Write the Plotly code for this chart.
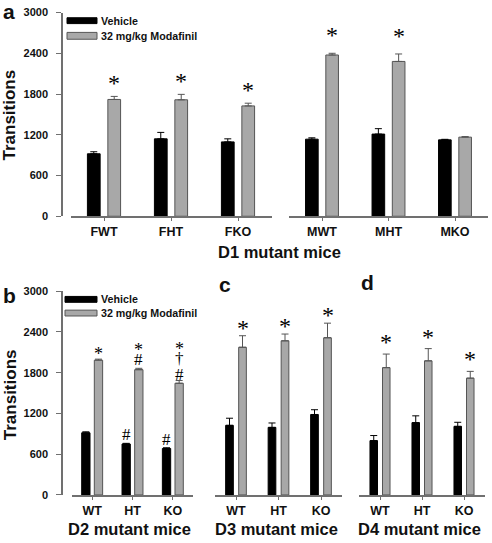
import plotly.graph_objects as go

W, H = 492, 543

def px(x):
    return x / W

def py(y):
    return 1 - y / H

# ---------------- data ----------------
d1_female = ["FWT", "FHT", "FKO"]
d1_male = ["MWT", "MHT", "MKO"]
genotypes = ["WT", "HT", "KO"]
y_ticks = [0, 600, 1200, 1800, 2400, 3000]

d1f_veh = [920, 1140, 1095]
d1f_veh_err = [30, 95, 45]
d1f_mod = [1720, 1715, 1625]
d1f_mod_err = [45, 80, 40]

d1m_veh = [1135, 1210, 1125]
d1m_veh_err = [20, 80, 8]
d1m_mod = [2375, 2280, 1165]
d1m_mod_err = [25, 110, 8]

d2_veh = [915, 750, 685]
d2_veh_err = [15, 10, 10]
d2_mod = [1985, 1845, 1645]
d2_mod_err = [15, 20, 40]

d3_veh = [1025, 995, 1185]
d3_veh_err = [105, 65, 70]
d3_mod = [2175, 2270, 2315]
d3_mod_err = [170, 100, 215]

d4_veh = [800, 1065, 1010]
d4_veh_err = [75, 100, 60]
d4_mod = [1875, 1975, 1720]
d4_mod_err = [200, 180, 100]

# significance marks: (series, category index, symbols bottom->top)
d1f_marks = [("mod", 0, ["*"]), ("mod", 1, ["*"]), ("mod", 2, ["*"])]
d1m_marks = [("mod", 0, ["*"]), ("mod", 1, ["*"])]
d2_marks = [("mod", 0, ["*"]), ("mod", 1, ["#", "*"]), ("mod", 2, ["#", "†", "*"]),
            ("veh", 1, ["#"]), ("veh", 2, ["#"])]
d3_marks = [("mod", 0, ["*"]), ("mod", 1, ["*"]), ("mod", 2, ["*"])]
d4_marks = [("mod", 0, ["*"]), ("mod", 1, ["*"]), ("mod", 2, ["*"])]

# ---------------- styling ----------------
BLACK = "#000000"
GRAY = "#a8a8a8"
GRAY_EDGE = "#555555"
AXIS = "#707070"
SANS = "Liberation Sans"
SERIF = "Liberation Serif"
TXT = "#111111"

fig = go.Figure()

panels = [
    dict(xa="x", ya="y", dom=(70.5, 271.5), cats=d1_female,
         veh=d1f_veh, veh_err=d1f_veh_err, mod=d1f_mod, mod_err=d1f_mod_err,
         w=0.19, gap=0.115, marks=d1f_marks, star=24, lift=7),
    dict(xa="x2", ya="y", dom=(288.75, 488.25), cats=d1_male,
         veh=d1m_veh, veh_err=d1m_veh_err, mod=d1m_mod, mod_err=d1m_mod_err,
         w=0.19, gap=0.115, marks=d1m_marks, star=24, lift=12),
    dict(xa="x3", ya="y3", dom=(72, 193), cats=genotypes,
         veh=d2_veh, veh_err=d2_veh_err, mod=d2_mod, mod_err=d2_mod_err,
         w=0.206, gap=0.107, marks=d2_marks, star=18, lift=0),
    dict(xa="x4", ya="y3", dom=(214.75, 342.25), cats=genotypes,
         veh=d3_veh, veh_err=d3_veh_err, mod=d3_mod, mod_err=d3_mod_err,
         w=0.181, gap=0.125, marks=d3_marks, star=24, lift=2),
    dict(xa="x5", ya="y3", dom=(359, 485), cats=genotypes,
         veh=d4_veh, veh_err=d4_veh_err, mod=d4_mod, mod_err=d4_mod_err,
         w=0.179, gap=0.119, marks=d4_marks, star=24, lift=6),
]

annotations = []

for p in panels:
    w, g = p["w"], p["gap"]
    off_veh = -w - g / 2
    off_mod = g / 2
    fig.add_trace(go.Bar(
        x=p["cats"], y=p["veh"], xaxis=p["xa"], yaxis=p["ya"],
        width=w, offset=off_veh, showlegend=False,
        marker=dict(color=BLACK, line=dict(color=BLACK, width=1)),
        error_y=dict(type="data", symmetric=False, array=p["veh_err"],
                     arrayminus=[0] * len(p["veh_err"]), color=BLACK,
                     thickness=1, width=3.5),
    ))
    fig.add_trace(go.Bar(
        x=p["cats"], y=p["mod"], xaxis=p["xa"], yaxis=p["ya"],
        width=w, offset=off_mod, showlegend=False,
        marker=dict(color=GRAY, line=dict(color=GRAY_EDGE, width=1)),
        error_y=dict(type="data", symmetric=False, array=p["mod_err"],
                     arrayminus=[0] * len(p["mod_err"]), color=GRAY_EDGE,
                     thickness=1, width=3.5),
    ))
    cat_px = (p["dom"][1] - p["dom"][0]) / len(p["cats"])
    for series, i, syms in p["marks"]:
        if series == "mod":
            top = p["mod"][i] + p["mod_err"][i]
            xs = (off_mod + w / 2) * cat_px
        else:
            top = p["veh"][i] + p["veh_err"][i]
            xs = (off_veh + w / 2) * cat_px
        shift = 2 + p["lift"]
        for j, s in enumerate(syms):
            if s == "*":
                size = p["star"]
                h = size * 0.42
                ys = shift - size * 0.42
            else:
                size = 17
                h = size * 0.72
                ys = shift - size * 0.22
                if s == "#" and j == 0 and len(syms) == 3:
                    ys -= 3
            annotations.append(dict(
                x=p["cats"][i], y=top, xref=p["xa"], yref=p["ya"],
                text=s, showarrow=False, xshift=xs, yshift=ys,
                yanchor="bottom", xanchor="center", borderpad=0,
                font=dict(family=SERIF, size=size, color="#000000"),
            ))
            shift += h + 1

axis_common = dict(
    showline=True, linecolor=AXIS, linewidth=1.5, showgrid=False, zeroline=False,
    ticks="outside", tickcolor=AXIS, ticklen=3, tickwidth=1,
    tickfont=dict(family=SANS, size=12.5, color=TXT, weight="bold"),
    type="category", range=[-0.5, 2.5], fixedrange=True,
)

layout_axes = {}
for k, p in zip(["xaxis", "xaxis2", "xaxis3", "xaxis4", "xaxis5"], panels):
    ax = dict(axis_common)
    ax["domain"] = [px(p["dom"][0]), px(p["dom"][1])]
    ax["anchor"] = p["ya"]
    ax["categoryorder"] = "array"
    ax["categoryarray"] = p["cats"]
    layout_axes[k] = ax

yaxis_common = dict(
    range=[0, 3000], tickvals=y_ticks, showline=True, linecolor=AXIS, linewidth=1.5,
    showgrid=False, zeroline=False, ticks="outside", ticklen=5, tickcolor=AXIS,
    tickfont=dict(family=SANS, size=11, color=TXT, weight="bold"),
    anchor="free", position=px(62), fixedrange=True, ticklabelstandoff=6,
)
layout_axes["yaxis"] = dict(yaxis_common, domain=[py(215), py(6.7)])
layout_axes["yaxis3"] = dict(yaxis_common, domain=[py(500), py(291.7)])

# legends (drawn as swatches + text)
shapes = []
legend_rows = [
    (67, 97, 12, 18, BLACK, BLACK, 15, "Vehicle"),
    (67, 97, 27, 34, GRAY, GRAY_EDGE, 30.5, "32 mg/kg Modafinil"),
    (65, 97, 297, 303, BLACK, BLACK, 300, "Vehicle"),
    (65, 97, 311, 317, GRAY, GRAY_EDGE, 314, "32 mg/kg Modafinil"),
]
for x0, x1, y0, y1, fc, lc, ty, label in legend_rows:
    shapes.append(dict(type="rect", xref="paper", yref="paper",
                       x0=px(x0), x1=px(x1), y0=py(y1), y1=py(y0),
                       fillcolor=fc, line=dict(color=lc, width=1)))
    annotations.append(dict(x=px(x1 + 3), y=py(ty), xref="paper", yref="paper",
                            text=label, showarrow=False, xanchor="left", yanchor="middle",
                            borderpad=0,
                            font=dict(family=SANS, size=10.7, color=TXT, weight="bold")))

# panel letters, axis titles
texts = [
    ("a", 8.5, 6, 21, 0),
    ("b", 9.5, 296, 21, 0),
    ("c", 225, 285, 21, 0),
    ("d", 367, 283, 21, 0),
    ("Transitions", 10, 112, 17, -90),
    ("Transitions", 10, 398, 17, -90),
    ("D1 mutant mice", 279, 252, 16.5, 0),
    ("D2 mutant mice", 129.5, 535, 16.5, 0),
    ("D3 mutant mice", 276, 535, 16.5, 0),
    ("D4 mutant mice", 419, 535, 16.5, 0),
]
for t, x, y, s, ang in texts:
    annotations.append(dict(x=px(x), y=py(y), xref="paper", yref="paper", text=t,
                            showarrow=False, xanchor="center", yanchor="middle",
                            textangle=ang, borderpad=0,
                            font=dict(family=SANS, size=s, color=TXT, weight="bold")))

fig.update_layout(
    width=W, height=H, margin=dict(l=0, r=0, t=0, b=0),
    paper_bgcolor="white", plot_bgcolor="white",
    barmode="overlay", showlegend=False,
    annotations=annotations, shapes=shapes,
    **layout_axes,
)

fig.write_html(
    "out.html",
    config={"displayModeBar": False},
    post_script="document.body.style.margin='0';document.body.style.overflow='hidden';",
)
